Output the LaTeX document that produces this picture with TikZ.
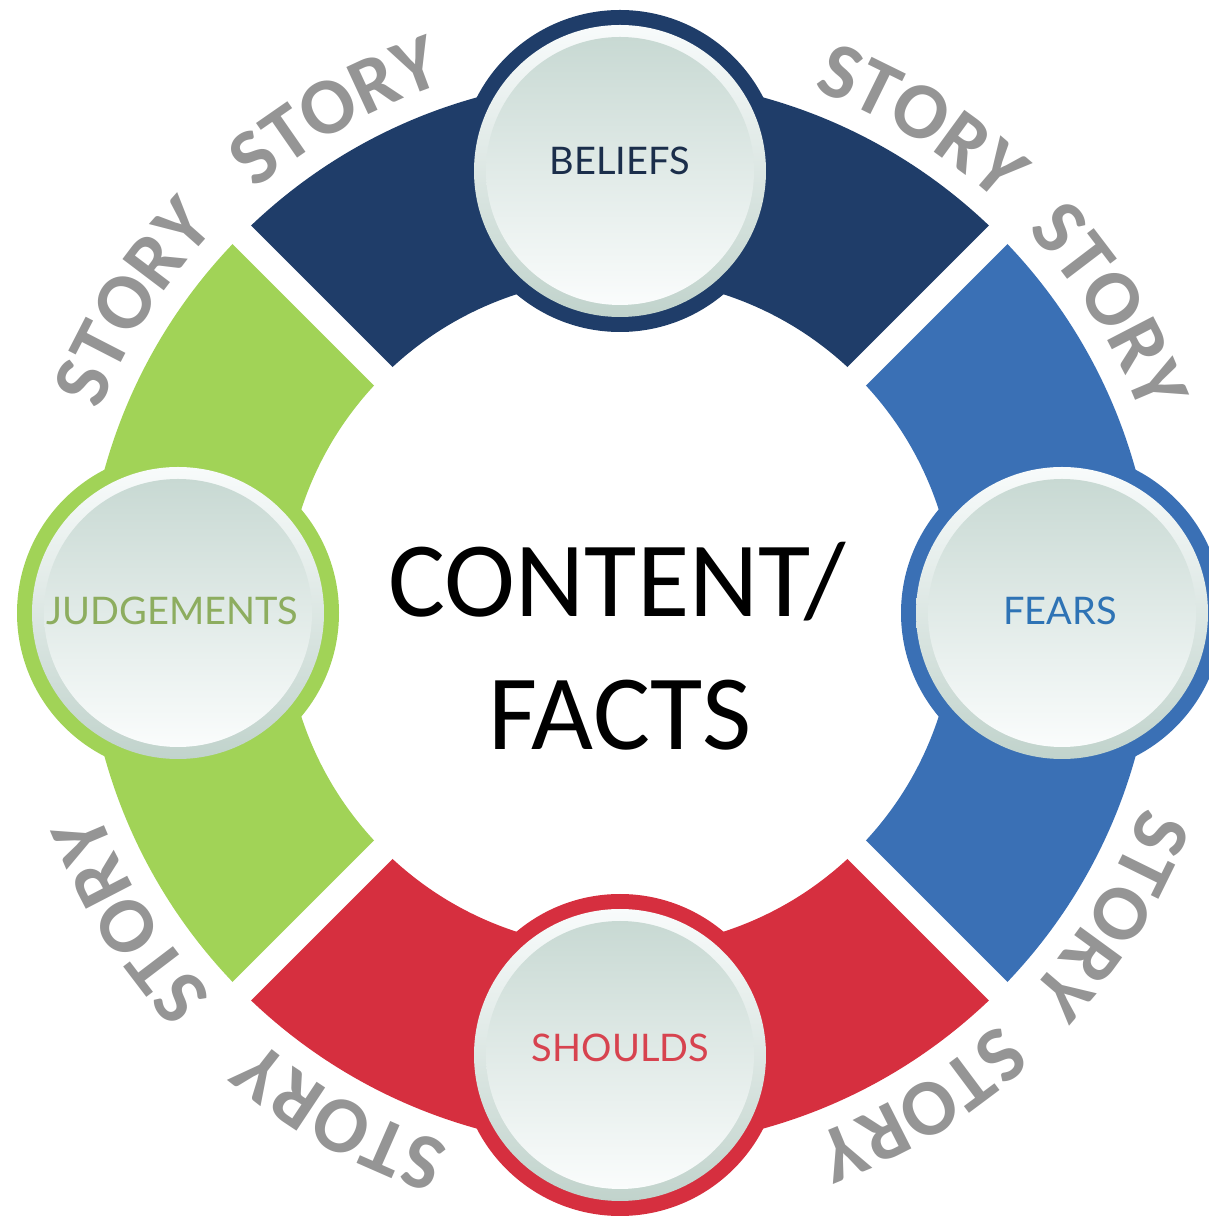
\documentclass[tikz,border=0pt]{standalone}
\usepackage{fontspec}
\newfontfamily\carlito{Carlito}
\newfontfamily\latofont{Lato}
\usetikzlibrary{decorations.text}
\definecolor{navyseg}{HTML}{1F3D69}
\definecolor{blueseg}{HTML}{3A70B5}
\definecolor{redseg}{HTML}{D62F3F}
\definecolor{greenseg}{HTML}{A1D357}
\definecolor{storygray}{HTML}{959595}
\definecolor{facetop}{HTML}{C8D9D3}
\definecolor{facebot}{HTML}{FAFCFC}
\definecolor{rimtop}{HTML}{F8FBFB}
\definecolor{rimbot}{HTML}{C1D3CC}
\definecolor{beliefscol}{HTML}{1B2E4B}
\definecolor{fearscol}{HTML}{2E73B5}
\definecolor{judgecol}{HTML}{8DAD5F}
\definecolor{shouldcol}{HTML}{D7434F}
\newcommand\storyfont{\carlito\bfseries\fontsize{80}{96}\selectfont}
\begin{document}
\begin{tikzpicture}[x=1pt,y=1pt,
  gapline/.style={white, line width=26pt},
  badgering/.style={circle, minimum size=322pt, inner sep=0pt},
  badgerim/.style={circle, minimum size=292pt, inner sep=0pt, top color=rimtop, bottom color=rimbot},
  badgeface/.style={circle, minimum size=268pt, inner sep=0pt, top color=facetop, bottom color=facebot},
  labeltext/.style={anchor=base, inner sep=0pt, font=\latofont\fontsize{38}{46}\selectfont},
  centertext/.style={anchor=base, inner sep=0pt, font=\carlito\fontsize{107}{130}\selectfont}]
\useasboundingbox (0,0) rectangle (1209,1219);
\begin{scope}[shift={(620,606)}]
  % ring segments
  \fill[navyseg] (45:535) arc[start angle=45,end angle=135,radius=535] -- (135:335) arc[start angle=135,end angle=45,radius=335] -- cycle;
  \fill[greenseg] (135:535) arc[start angle=135,end angle=225,radius=535] -- (225:335) arc[start angle=225,end angle=135,radius=335] -- cycle;
  \fill[redseg] (225:535) arc[start angle=225,end angle=315,radius=535] -- (315:335) arc[start angle=315,end angle=225,radius=335] -- cycle;
  \fill[blueseg] (-45:535) arc[start angle=-45,end angle=45,radius=535] -- (45:335) arc[start angle=45,end angle=-45,radius=335] -- cycle;
  \foreach \g in {45,135,225,315} \draw[gapline] (\g:315) -- (\g:555);
  % badges
  \node[badgering, fill=navyseg] (beliefsring) at (90:442) {};
  \node[badgering, fill=blueseg] (fearsring) at (0:442) {};
  \node[badgering, fill=redseg] (shouldsring) at (270:442) {};
  \node[badgering, fill=greenseg] (judgering) at (180:442) {};
  \foreach \n/\a in {beliefs/90,fears/0,shoulds/270,judge/180}{
    \node[badgerim] (\n rim) at (\a:442) {};
    \node[badgeface] (\n face) at (\a:442) {};
  }
  % STORY words
  \foreach \a in {32,58.5,119.5,147.5,-31.5,-58.5,-119,-148}
    \path[decorate, decoration={text along path, text={|\storyfont|STORY}, text align=center, text color=storygray}]
      ({\a+20}:558) arc[start angle={\a+20}, end angle={\a-20}, radius=558];
\end{scope}
% labels
\node[labeltext, text=beliefscol] (beliefs) at (619.5,1044) {BELIEFS};
\node[labeltext, text=fearscol] (fears) at (1060,594) {FEARS};
\node[labeltext, text=shouldcol] (shoulds) at (620.5,157) {SHOULDS};
\node[labeltext, text=judgecol] (judgements) at (172.5,594) {JUDGEMENTS};
\node[centertext] (content) at (617.5,602) {CONTENT/};
\node[centertext] (facts) at (620,469) {FACTS};
\end{tikzpicture}
\end{document}
